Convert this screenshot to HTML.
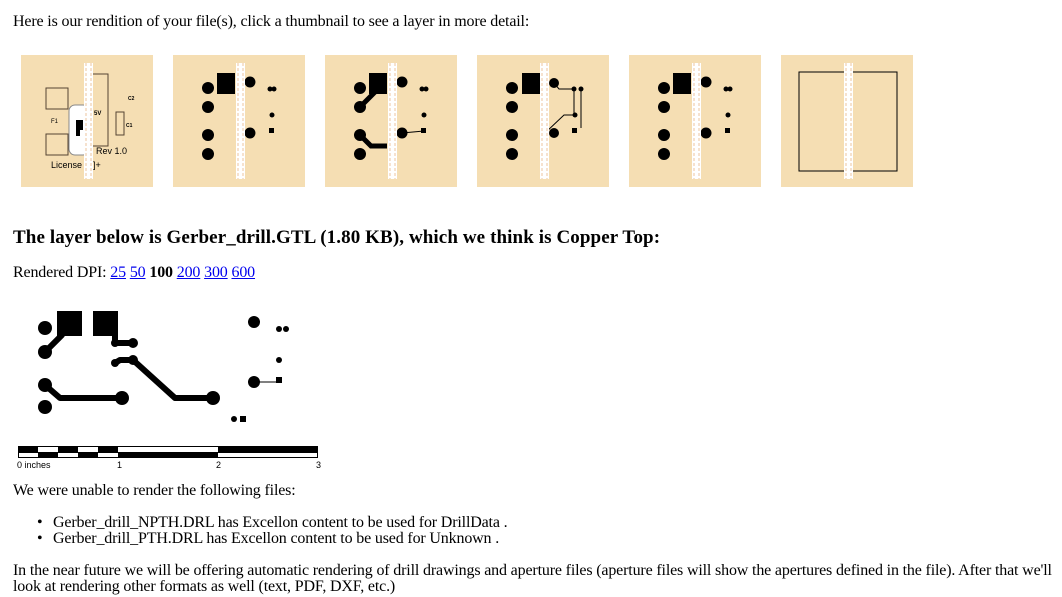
<!DOCTYPE html>
<html><head><meta charset="utf-8"><style>
body{margin:0;width:1062px;height:597px;overflow:hidden;background:#fff;font-family:"Liberation Serif",serif;font-size:16px;color:#000;position:relative}
.t{position:absolute;white-space:nowrap;letter-spacing:-0.16px}
a{color:#00e}
svg{position:absolute;left:0;top:0}
</style></head><body>
<div class="t" style="left:13px;top:13px">Here is our rendition of your file(s), click a thumbnail to see a layer in more detail:</div>

<svg width="1062" height="200">
<defs>
<g id="strip"><rect x="63" y="8" width="9" height="116" fill="#fff"/><line x1="65" y1="8" x2="65" y2="124" stroke="#e8b888" stroke-dasharray="3,2" stroke-width="0.8"/><line x1="70" y1="8" x2="70" y2="124" stroke="#e8b888" stroke-dasharray="3,2" stroke-width="0.8"/></g>
<g id="base"><circle cx="35" cy="33" r="6"/><circle cx="35" cy="52" r="6"/><circle cx="35" cy="80" r="6"/><circle cx="35" cy="99" r="6"/><circle cx="77" cy="27" r="5.5"/><circle cx="77" cy="78" r="5.5"/><circle cx="97" cy="34" r="2.5"/><circle cx="101" cy="34" r="2.5"/><circle cx="99" cy="60" r="2.5"/><rect x="96" y="73" width="5" height="5"/></g>
</defs>
<g transform="translate(21,55)"><rect width="132" height="132" fill="#f5deb3"/>
<g fill="none" stroke="#554433" stroke-width="1"><rect x="25" y="33" width="22" height="21"/><rect x="25" y="79" width="22" height="21"/><rect x="71" y="19" width="16" height="72"/><rect x="95" y="57" width="8" height="23"/></g>
<rect x="48" y="50" width="20" height="50" rx="6" fill="#fff" stroke="#888"/>
<path d="M55 65h7v10h-3v6h-4z"/>
<text x="30" y="68" font-size="6" font-family="Liberation Sans">F1</text>
<text x="73" y="60" font-size="6" font-family="Liberation Sans" font-weight="bold">5V</text>
<text x="107" y="45" font-size="5" font-family="Liberation Sans" font-weight="bold">C2</text>
<text x="105" y="72" font-size="5" font-family="Liberation Sans" font-weight="bold">C1</text>
<text x="75" y="99" font-size="9" font-family="Liberation Sans">Rev 1.0</text>
<text x="30" y="113" font-size="9" font-family="Liberation Sans">License</text>
<text x="72" y="113" font-size="9" font-family="Liberation Sans">]+</text>
<use href="#strip"/></g>
<g transform="translate(173,55)"><rect width="132" height="132" fill="#f5deb3"/><use href="#base"/><rect x="44" y="18" width="18" height="21"/><use href="#strip"/></g>
<g transform="translate(325,55)"><rect width="132" height="132" fill="#f5deb3"/><use href="#base"/><rect x="44" y="18" width="18" height="21"/><path d="M35 52L52 35M35 80L46 91H62" stroke="#000" stroke-width="5" fill="none"/><line x1="77" y1="78" x2="99" y2="76" stroke="#000"/><use href="#strip"/></g>
<g transform="translate(477,55)"><rect width="132" height="132" fill="#f5deb3"/>
<circle cx="35" cy="33" r="6"/><circle cx="35" cy="52" r="6"/><circle cx="35" cy="80" r="6"/><circle cx="35" cy="99" r="6"/><rect x="45" y="18" width="18" height="21"/><circle cx="77" cy="28" r="5"/><circle cx="77" cy="78" r="5"/>
<path d="M77 28L82 34H97M97 34V60M104 34V73M97 60H87L68 78M68 90" stroke="#000" fill="none" stroke-width="1"/>
<circle cx="97" cy="34" r="2.5"/><circle cx="104" cy="34" r="2.5"/><circle cx="98" cy="60" r="2.5"/><rect x="95" y="73" width="5" height="5"/>
<use href="#strip"/></g>
<g transform="translate(629,55)"><rect width="132" height="132" fill="#f5deb3"/><use href="#base"/><rect x="44" y="18" width="18" height="21"/><use href="#strip"/></g>
<g transform="translate(781,55)"><rect width="132" height="132" fill="#f5deb3"/><rect x="18" y="17" width="98" height="99" fill="none" stroke="#000"/><use href="#strip"/></g>
</svg>

<div class="t" style="left:13px;top:227px;font-size:19px;font-weight:bold;letter-spacing:0.1px">The layer below is Gerber_drill.GTL (1.80 KB), which we think is Copper Top:</div>
<div class="t" style="left:13px;top:264px">Rendered DPI: <a href="#">25</a> <a href="#">50</a> <b>100</b> <a href="#">200</a> <a href="#">300</a> <a href="#">600</a></div>

<svg width="340" height="480" style="top:0">
<g fill="#000">
<rect x="57" y="311" width="25" height="25"/><rect x="93" y="311" width="25" height="25"/>
<circle cx="45" cy="328" r="7"/><circle cx="45" cy="352" r="7"/><circle cx="45" cy="385" r="7"/><circle cx="45" cy="407" r="7"/>
<circle cx="133" cy="343" r="5"/><circle cx="115" cy="343" r="4"/><circle cx="133" cy="360" r="5"/><circle cx="115" cy="363" r="4"/>
<circle cx="122" cy="398" r="7"/><circle cx="213" cy="398" r="7"/>
<circle cx="254" cy="322" r="6"/><circle cx="279" cy="329" r="3"/><circle cx="286" cy="329" r="3"/><circle cx="279" cy="360" r="3"/>
<circle cx="254" cy="382" r="6"/><rect x="276" y="377" width="6" height="6"/>
<circle cx="234" cy="419" r="3"/><rect x="240" y="416" width="6" height="6"/>
</g>
<g stroke="#000" fill="none" stroke-linecap="round" stroke-linejoin="round">
<path d="M45 352L62 335" stroke-width="6"/>
<path d="M115 335V343H133" stroke-width="6"/>
<path d="M115 363L120 360H133L175 398H213" stroke-width="6"/>
<path d="M45 385L60 398H122" stroke-width="6"/>
<path d="M254 382H279" stroke-width="1"/>
</g>
<g>
<rect x="18" y="446" width="300" height="12" fill="#000"/>
<rect x="19" y="453" width="19" height="4" fill="#fff"/>
<rect x="38" y="447" width="20" height="5" fill="#fff"/>
<rect x="58" y="453" width="20" height="4" fill="#fff"/>
<rect x="78" y="447" width="20" height="5" fill="#fff"/>
<rect x="98" y="453" width="20" height="4" fill="#fff"/>
<rect x="118" y="447" width="100" height="5" fill="#fff"/>
<rect x="218" y="453" width="99" height="4" fill="#fff"/>
</g>
<g font-family="Liberation Sans" font-size="9">
<text x="17" y="468">0 inches</text><text x="117" y="468">1</text><text x="216" y="468">2</text><text x="316" y="468">3</text>
</g>
</svg>

<div class="t" style="left:13px;top:482px">We were unable to render the following files:</div>
<div class="t" style="left:37px;top:514px">•</div><div class="t" style="left:53px;top:514px">Gerber_drill_NPTH.DRL has Excellon content to be used for DrillData .</div>
<div class="t" style="left:37px;top:530px">•</div><div class="t" style="left:53px;top:530px">Gerber_drill_PTH.DRL has Excellon content to be used for Unknown .</div>
<div class="t" style="left:13px;top:562px">In the near future we will be offering automatic rendering of drill drawings and aperture files (aperture files will show the apertures defined in the file). After that we'll</div>
<div class="t" style="left:13px;top:578px">look at rendering other formats as well (text, PDF, DXF, etc.)</div>
</body></html>
